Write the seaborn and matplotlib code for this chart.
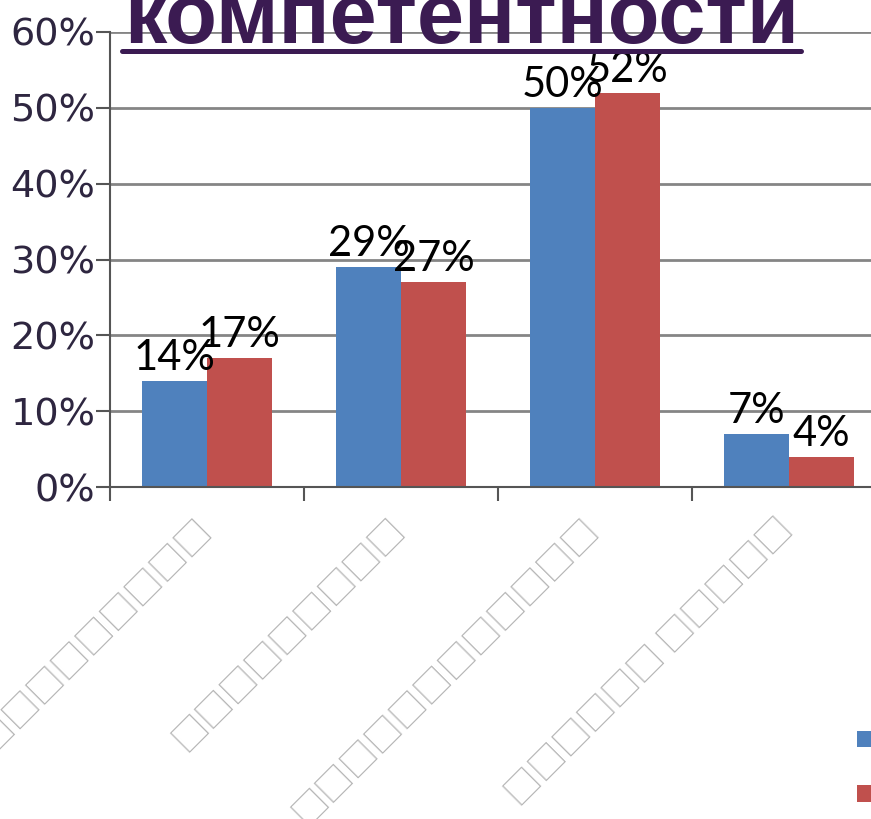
import matplotlib
matplotlib.use("Agg")
import pandas as pd
import matplotlib.pyplot as plt
from matplotlib.lines import Line2D
from matplotlib.ticker import FuncFormatter
from matplotlib.transforms import ScaledTranslation
import seaborn as sns

# --- data ---
title = "компетентности"
categories = ["□□□□□□□□□□", "□□□□□□□□□", "□□□□□□□□□□□□", "□□□□□□ □□□□□"]
series_names = ["□□□□□□", "□□□□□□□"]
series_a = [14, 29, 50, 7]
series_b = [17, 27, 52, 4]
yticks = [0, 10, 20, 30, 40, 50, 60]
colors = ["#4f81bd", "#c0504d"]

df = pd.DataFrame({
    "category": categories * 2,
    "series": [series_names[0]] * len(categories) + [series_names[1]] * len(categories),
    "value": series_a + series_b,
})

sns.set_style("white")
plt.rcParams["font.family"] = ["DejaVu Sans"]

W, H = 871, 819
fig = plt.figure(figsize=(W / 100, H / 100), dpi=100)
# axes runs past the right edge, like the cropped original
ax = fig.add_axes([110 / W, 1 - 487 / H, 776 / W, 455 / H])

sns.barplot(
    data=df, x="category", y="value", hue="series",
    order=categories, hue_order=series_names, palette=colors,
    width=0.67, gap=0, saturation=1, linewidth=0, ax=ax,
)

# value labels on top of bars
for cont in ax.containers:
    ax.bar_label(cont, labels=[f"{v:.0f}%" for v in cont.datavalues],
                 padding=3, fontsize=30, color="black",
                 family=["Lato", "DejaVu Sans"])

# y axis
ax.set_ylim(0, 60)
ax.set_yticks(yticks)
ax.yaxis.set_major_formatter(FuncFormatter(lambda v, p: f"{v:.0f}%"))
ax.yaxis.grid(True, color="#858585", linewidth=2)
ax.set_axisbelow(True)
ax.tick_params(axis="y", length=10, width=1.5, color="#555555",
               labelsize=27.5, labelcolor="#2e2640", pad=0.5, left=True)

# x axis: labels at centres, tick marks at the boundaries
ax.set_xlim(-0.5, 3.5)
ax.set_xticks(range(len(categories)))
ax.set_xticks([i - 0.5 for i in range(len(categories) + 1)], minor=True)
ax.tick_params(axis="x", which="major", length=0, pad=16)
ax.tick_params(axis="x", which="minor", length=10, width=1.5,
               color="#555555", bottom=True)
ax.set_xticklabels(categories, rotation=45, ha="right", rotation_mode="anchor",
                   fontsize=25, color="#b8b8b8",
                   family=["Noto Sans CJK JP", "DejaVu Sans"])
ax.set_xlabel("")
ax.set_ylabel("")

sns.despine(ax=ax)
for side in ["left", "bottom"]:
    ax.spines[side].set_color("#555555")
    ax.spines[side].set_linewidth(1.5)

# legend, cut off at the right edge
sns.move_legend(ax, "upper left", bbox_to_anchor=(857 / W, 1 - 731 / H),
                bbox_transform=fig.transFigure, frameon=False, title=None,
                fontsize=13, handlelength=1.0, handleheight=1.0,
                labelspacing=2.0, borderpad=0, borderaxespad=0,
                handletextpad=0.5)

# nudge the slanted labels a little left/down (after all tick_params calls)
shift = ScaledTranslation(-13 / 100, -3 / 100, fig.dpi_scale_trans)
for lab in ax.get_xticklabels():
    lab.set_transform(lab.get_transform() + shift)

# underlined title, top cut off
title_color = "#3b1b52"
t = fig.text(124 / W, 1 - 43 / H, title, fontsize=61, fontweight="bold",
             family=["Liberation Sans", "DejaVu Sans"], color=title_color,
             ha="left", va="baseline")
fig.canvas.draw()
bb = t.get_window_extent().transformed(fig.transFigure.inverted())
fig.add_artist(Line2D([bb.x0 - 2 / W, bb.x1 + 2 / W], [1 - 50.5 / H] * 2,
                      color=title_color, linewidth=3.6))

fig.savefig("out.png", dpi=100)
